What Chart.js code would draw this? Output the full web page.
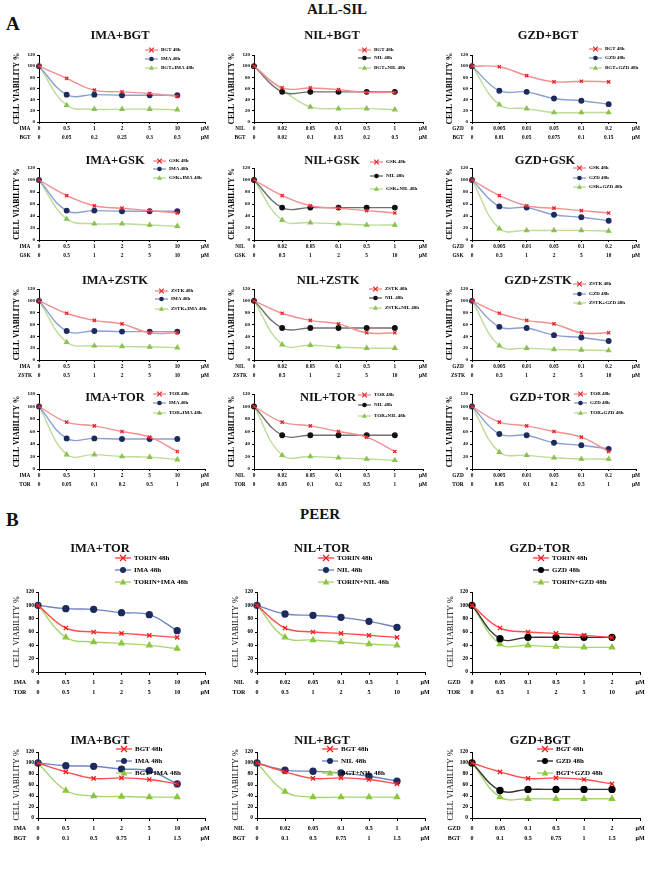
<!DOCTYPE html>
<html>
<head>
<meta charset="utf-8">
<script src="https://cdn.jsdelivr.net/npm/chart.js@4.4.0/dist/chart.umd.min.js"></script>
<style>
body { margin:0; background:#fff; width:650px; height:876px; position:relative; overflow:hidden; font-family:'Liberation Serif', serif; }
canvas { position:absolute; }
.t { position:absolute; font-weight:bold; white-space:nowrap; transform:translate(-50%,-50%); color:#111; font-family:'Liberation Serif', serif; }
.l { position:absolute; font-weight:bold; color:#111; font-family:'Liberation Serif', serif; }
</style>
</head>
<body>
<div class="l" style="left:6px;top:13px;font-size:19px;">A</div>
<div class="t" style="left:337px;top:9px;font-size:15px;">ALL-SIL</div>
<div class="l" style="left:6px;top:509px;font-size:19px;">B</div>
<div class="t" style="left:320px;top:514px;font-size:15px;">PEER</div>
<script>
// --- dosis (etiquetas del eje x) ---
const doseIMA = ['0', '0.5', '1', '2', '5', '10'];
const doseNIL = ['0', '0.02', '0.05', '0.1', '0.5', '1'];
const doseGZD = ['0', '0.005', '0.01', '0.05', '0.1', '0.2'];
const doseBGTima = ['0', '0.05', '0.2', '0.25', '0.3', '0.5'];
const doseBGTnil = ['0', '0.02', '0.1', '0.15', '0.2', '0.5'];
const doseBGTgzd = ['0', '0.01', '0.05', '0.075', '0.1', '0.15'];
const doseGSK = ['0', '0.5', '1', '2', '5', '10'];
const doseZSTK = ['0', '0.5', '1', '2', '5', '10'];
const doseTOR = ['0', '0.05', '0.1', '0.2', '0.5', '1'];
const doseTORb = ['0', '0.5', '1', '2', '5', '10'];
const doseGZDb = ['0', '0.05', '0.1', '0.5', '1', '2'];
const doseBGTb = ['0', '0.1', '0.5', '0.75', '1', '1.5'];

// --- A: ALL-SIL ---
const imaA = [100, 49, 49, 48, 48, 48];
const nilA = [100, 54, 54, 54, 54, 54];
const gzdA = [100, 56, 54, 42, 38, 32];
const bgtA_ima = [100, 78, 57, 54, 51, 46];
const bgtA_nil = [100, 61, 61, 58, 53, 53];
const bgtA_gzd = [100, 99, 83, 72, 73, 72];
const comboA_imaBgt = [100, 30, 23, 23, 23, 22];
const comboA_nilBgt = [100, 58, 27, 24, 24, 22];
const comboA_gzdBgt = [100, 31, 24, 17, 17, 17];
const gskA = [100, 74, 57, 53, 49, 45];
const comboA_imaGsk = [100, 35, 27, 27, 25, 23];
const comboA_nilGsk = [100, 33, 29, 27, 25, 25];
const comboA_gzdGsk = [100, 19, 16, 16, 16, 15];
const zstkA = [100, 79, 67, 61, 46, 46];
const comboA_imaZstk = [100, 30, 24, 23, 22, 21];
const comboA_nilZstk = [100, 26, 25, 22, 20, 20];
const comboA_gzdZstk = [100, 24, 20, 18, 17, 16];
const torA = [100, 75, 69, 60, 51, 28];
const comboA_imaTor = [100, 23, 23, 20, 19, 15];
const comboA_nilTor = [100, 22, 20, 18, 16, 14];
const comboA_gzdTor = [100, 27, 22, 18, 16, 16];

// --- B: PEER ---
const torinB = [100, 66, 60, 58, 55, 52];
const imaB = [100, 95, 94, 89, 86, 62];
const nilB = [100, 87, 85, 82, 76, 67];
const gzdB = [100, 50, 52, 52, 52, 52];
const comboB_imaTor = [100, 52, 45, 43, 40, 35];
const comboB_nilTor = [100, 52, 48, 45, 42, 40];
const comboB_gzdTor = [100, 42, 40, 38, 37, 37];
const bgtB = [100, 84, 72, 73, 70, 62];
const comboB_imaBgt = [100, 50, 40, 39, 38, 38];
const comboB_nilBgt = [100, 48, 38, 38, 38, 38];
const comboB_gzdBgt = [100, 38, 35, 35, 35, 35];

const FONT = "'Liberation Serif', serif";
const RED = { line: '#f29090', pt: 'crossRot', fill: '#fcd0d0', stroke: '#e3232a' };
const BLUE = { line: '#8c9fce', pt: 'circle', fill: '#1d2a5c', stroke: '#1d2a5c' };
const BLACK = { line: '#707070', pt: 'circle', fill: '#111', stroke: '#111' };
const GREEN = { line: '#bcdc98', pt: 'triangle', fill: '#8cc152', stroke: '#8cc152' };
const REDB = { line: '#ff4c4c', pt: 'crossRot', fill: '#ff4c4c', stroke: '#ee1c1c' };
const BLUEB = { line: '#7086c4', pt: 'circle', fill: '#1d2a5c', stroke: '#1d2a5c' };
const BLACKB = { line: '#333', pt: 'circle', fill: '#000', stroke: '#000' };
const GREENB = { line: '#a8d46f', pt: 'triangle', fill: '#8cc63e', stroke: '#8cc63e' };

function addText(txt, x, y, size) {
  const d = document.createElement('div');
  d.className = 't';
  d.style.left = x + 'px'; d.style.top = y + 'px'; d.style.fontSize = size + 'px';
  d.textContent = txt;
  document.body.appendChild(d);
}

function marker(ctx, style, x, y, r, fill, stroke) {
  ctx.save();
  ctx.fillStyle = fill; ctx.strokeStyle = stroke; ctx.lineWidth = 1.2;
  ctx.beginPath();
  if (style === 'crossRot') {
    ctx.moveTo(x - r, y - r); ctx.lineTo(x + r, y + r);
    ctx.moveTo(x + r, y - r); ctx.lineTo(x - r, y + r);
    ctx.stroke();
  } else if (style === 'triangle') {
    ctx.moveTo(x, y - r * 1.2); ctx.lineTo(x + r * 1.1, y + r * 0.8); ctx.lineTo(x - r * 1.1, y + r * 0.8);
    ctx.closePath(); ctx.fill();
  } else {
    ctx.arc(x, y, r, 0, Math.PI * 2); ctx.fill();
  }
  ctx.restore();
}

function serie(label, data, st, r) {
  return {
    label: label, data: data,
    borderColor: st.line, borderWidth: 1.4,
    pointStyle: st.pt, pointRadius: r, pointBackgroundColor: st.fill,
    pointBorderColor: st.stroke, pointBorderWidth: 1.3,
    tension: 0.4, fill: false
  };
}

function panel(p) {
  const big = p.big;
  const padTop = 40;
  const left = p.ax - 40, top = p.y120 - padTop;
  const w = p.xEnd - p.ax + 52;
  const h = p.y0 - p.y120 + padTop + 26;
  const cv = document.createElement('canvas');
  cv.width = w; cv.height = h;
  cv.style.left = left + 'px'; cv.style.top = top + 'px';
  cv.style.width = w + 'px'; cv.style.height = h + 'px';
  document.body.appendChild(cv);
  addText(p.title, p.tx, p.ty, 12.5);

  const lh = big ? 10 : 9;
  const tickSize = big ? 6 : 5.3;
  const r = big ? 3 : 2.3;
  const labels = p.top.map((v, i) => [v, p.bot[i]]).concat([['µM', 'µM']]);
  const st = big ? [REDB, p.base === 'black' ? BLACKB : BLUEB, GREENB]
                 : [RED, p.base === 'black' ? BLACK : BLUE, GREEN];
  const datasets = p.series.map((s, i) => serie(p.names[i], s, st[i], r));

  const extras = {
    id: 'extras',
    afterDraw(chart) {
      const ctx = chart.ctx;
      const xs = chart.scales.x;
      ctx.save();
      // nombres de fila del eje x
      ctx.font = 'bold ' + tickSize + 'px ' + FONT;
      ctx.fillStyle = '#000'; ctx.textAlign = 'center'; ctx.textBaseline = 'middle';
      p.rows.forEach((n, i) => {
        ctx.fillText(n, chart.chartArea.left - (big ? 18 : 14), xs.top + (big ? 5 : 2) + lh / 2 + i * lh);
      });
      // leyenda
      const len = big ? 16 : 13;
      ctx.font = 'bold ' + (big ? 7 : 5) + 'px ' + FONT;
      ctx.textAlign = 'left';
      datasets.forEach((d, i) => {
        const x = p.lx - left, y = p.ly[i] - top;
        ctx.strokeStyle = d.borderColor; ctx.lineWidth = 1.4;
        ctx.beginPath(); ctx.moveTo(x, y); ctx.lineTo(x + len, y); ctx.stroke();
        marker(ctx, d.pointStyle, x + len / 2, y, r, d.pointBackgroundColor, d.pointBorderColor);
        ctx.fillStyle = '#000';
        ctx.fillText(d.label, x + len + 3, y);
      });
      ctx.restore();
    }
  };

  new Chart(cv, {
    type: 'line',
    data: { labels: labels, datasets: datasets },
    options: {
      responsive: false, animation: false,
      layout: { padding: { top: padTop, right: 12, left: 0, bottom: 0 } },
      plugins: { legend: { display: false }, tooltip: { enabled: false } },
      scales: {
        x: {
          grid: { drawOnChartArea: false, color: '#000', tickLength: big ? 3 : 2 },
          border: { color: '#000', width: 1 },
          ticks: { autoSkip: false, maxRotation: 0, padding: big ? 2 : 0, color: '#000',
                   font: { family: FONT, size: tickSize, weight: 'bold', lineHeight: lh + 'px' } },
          afterFit: s => { s.height = 26; s.paddingLeft = 0; s.paddingRight = 0; }
        },
        y: {
          min: 0, max: 120,
          grid: { drawOnChartArea: false, color: '#000', tickLength: 2 },
          border: { color: '#000', width: 1 },
          ticks: { stepSize: 20, padding: 2, color: '#000',
                   font: { family: FONT, size: big ? 5.5 : 5, weight: 'bold' } },
          title: { display: true, text: 'CELL VIABILITY %', color: '#000',
                   padding: { top: 14, bottom: 0 },
                   font: { family: FONT, size: big ? 8 : 7.5, weight: big ? 'normal' : 'bold' } },
          afterFit: s => { s.width = 40; }
        }
      }
    },
    plugins: [extras]
  });
}

const axA = [39, 254, 472], endA = [205, 423, 636];
const rowA = [[55, 122], [168, 240], [289, 360], [394, 469]];
function pa(row, col, o) {
  o.ax = axA[col]; o.xEnd = endA[col];
  o.y120 = rowA[row][0]; o.y0 = rowA[row][1];
  panel(o);
}

pa(0, 0, { title: 'IMA+BGT', tx: 120, ty: 35, rows: ['IMA', 'BGT'], top: doseIMA, bot: doseBGTima,
  names: ['BGT 48h', 'IMA 48h', 'BGT+IMA 48h'], series: [bgtA_ima, imaA, comboA_imaBgt], base: 'blue', lx: 145, ly: [50, 59, 68] });
pa(0, 1, { title: 'NIL+BGT', tx: 332, ty: 35, rows: ['NIL', 'BGT'], top: doseNIL, bot: doseBGTnil,
  names: ['BGT 48h', 'NIL 48h', 'BGT+NIL 48h'], series: [bgtA_nil, nilA, comboA_nilBgt], base: 'black', lx: 358, ly: [50, 58, 68] });
pa(0, 2, { title: 'GZD+BGT', tx: 548, ty: 35, rows: ['GZD', 'BGT'], top: doseGZD, bot: doseBGTgzd,
  names: ['BGT 48h', 'GZD 48h', 'BGT+GZD 48h'], series: [bgtA_gzd, gzdA, comboA_gzdBgt], base: 'blue', lx: 589, ly: [49, 58, 68] });

pa(1, 0, { title: 'IMA+GSK', tx: 115, ty: 160, rows: ['IMA', 'GSK'], top: doseIMA, bot: doseGSK,
  names: ['GSK 48h', 'IMA 48h', 'GSK+IMA 48h'], series: [gskA, imaA, comboA_imaGsk], base: 'blue', lx: 153, ly: [161, 169, 178] });
pa(1, 1, { title: 'NIL+GSK', tx: 332, ty: 160, rows: ['NIL', 'GSK'], top: doseNIL, bot: doseGSK,
  names: ['GSK 48h', 'NIL 48h', 'GSK+NIL 48h'], series: [gskA, nilA, comboA_nilGsk], base: 'black', lx: 370, ly: [162, 176, 189] });
pa(1, 2, { title: 'GZD+GSK', tx: 545, ty: 160, rows: ['GZD', 'GSK'], top: doseGZD, bot: doseGSK,
  names: ['GSK 48h', 'GZD 48h', 'GSK+GZD 48h'], series: [gskA, gzdA, comboA_gzdGsk], base: 'blue', lx: 573, ly: [168, 178, 187] });

pa(2, 0, { title: 'IMA+ZSTK', tx: 115, ty: 280, rows: ['IMA', 'ZSTK'], top: doseIMA, bot: doseZSTK,
  names: ['ZSTK 48h', 'IMA 48h', 'ZSTK+IMA 48h'], series: [zstkA, imaA, comboA_imaZstk], base: 'blue', lx: 155, ly: [291, 299, 309] });
pa(2, 1, { title: 'NIL+ZSTK', tx: 328, ty: 280, rows: ['NIL', 'ZSTK'], top: doseNIL, bot: doseZSTK,
  names: ['ZSTK 48h', 'NIL 48h', 'ZSTK+NIL 48h'], series: [zstkA, nilA, comboA_nilZstk], base: 'black', lx: 369, ly: [289, 298, 308] });
pa(2, 2, { title: 'GZD+ZSTK', tx: 538, ty: 280, rows: ['GZD', 'ZSTK'], top: doseGZD, bot: doseZSTK,
  names: ['ZSTK 48h', 'GZD 48h', 'ZSTK+GZD 48h'], series: [zstkA, gzdA, comboA_gzdZstk], base: 'blue', lx: 573, ly: [284, 294, 303] });

pa(3, 0, { title: 'IMA+TOR', tx: 115, ty: 397, rows: ['IMA', 'TOR'], top: doseIMA, bot: doseTOR,
  names: ['TOR 48h', 'IMA 48h', 'TOR+IMA 48h'], series: [torA, imaA, comboA_imaTor], base: 'blue', lx: 153, ly: [394, 403, 413] });
pa(3, 1, { title: 'NIL+TOR', tx: 328, ty: 397, rows: ['NIL', 'TOR'], top: doseNIL, bot: doseTOR,
  names: ['TOR 48h', 'NIL 48h', 'TOR+NIL 48h'], series: [torA, nilA, comboA_nilTor], base: 'black', lx: 358, ly: [395, 405, 416] });
pa(3, 2, { title: 'GZD+TOR', tx: 540, ty: 397, rows: ['GZD', 'TOR'], top: doseGZD, bot: doseTOR,
  names: ['TOR 48h', 'GZD 48h', 'TOR+GZD 48h'], series: [torA, gzdA, comboA_gzdTor], base: 'blue', lx: 574, ly: [394, 403, 413] });

const axB = [38, 257, 472], endB = [205, 425, 640];
const rowB = [[592, 672], [752, 818]];
function pb(row, col, o) {
  o.ax = axB[col]; o.xEnd = endB[col];
  o.y120 = rowB[row][0]; o.y0 = rowB[row][1];
  o.big = true;
  panel(o);
}

pb(0, 0, { title: 'IMA+TOR', tx: 100, ty: 548, rows: ['IMA', 'TOR'], top: doseIMA, bot: doseTORb,
  names: ['TORIN 48h', 'IMA 48h', 'TORIN+IMA 48h'], series: [torinB, imaB, comboB_imaTor], base: 'blue', lx: 115, ly: [558, 570, 582] });
pb(0, 1, { title: 'NIL+TOR', tx: 322, ty: 548, rows: ['NIL', 'TOR'], top: doseNIL, bot: doseTORb,
  names: ['TORIN 48h', 'NIL 48h', 'TORIN+NIL 48h'], series: [torinB, nilB, comboB_nilTor], base: 'blue', lx: 318, ly: [558, 570, 582] });
pb(0, 2, { title: 'GZD+TOR', tx: 540, ty: 548, rows: ['GZD', 'TOR'], top: doseGZDb, bot: doseTORb,
  names: ['TORIN 48h', 'GZD 48h', 'TORIN+GZD 48h'], series: [torinB, gzdB, comboB_gzdTor], base: 'black', lx: 533, ly: [558, 570, 582] });

pb(1, 0, { title: 'IMA+BGT', tx: 100, ty: 740, rows: ['IMA', 'BGT'], top: doseIMA, bot: doseBGTb,
  names: ['BGT 48h', 'IMA 48h', 'BGT+IMA 48h'], series: [bgtB, imaB, comboB_imaBgt], base: 'blue', lx: 116, ly: [749, 761, 773] });
pb(1, 1, { title: 'NIL+BGT', tx: 322, ty: 740, rows: ['NIL', 'BGT'], top: doseNIL, bot: doseBGTb,
  names: ['BGT 48h', 'NIL 48h', 'BGT+NIL 48h'], series: [bgtB, nilB, comboB_nilBgt], base: 'blue', lx: 322, ly: [749, 761, 773] });
pb(1, 2, { title: 'GZD+BGT', tx: 540, ty: 740, rows: ['GZD', 'BGT'], top: doseGZDb, bot: doseBGTb,
  names: ['BGT 48h', 'GZD 48h', 'BGT+GZD 48h'], series: [bgtB, gzdB, comboB_gzdBgt], base: 'black', lx: 537, ly: [749, 761, 773] });
</script>
</body>
</html>
